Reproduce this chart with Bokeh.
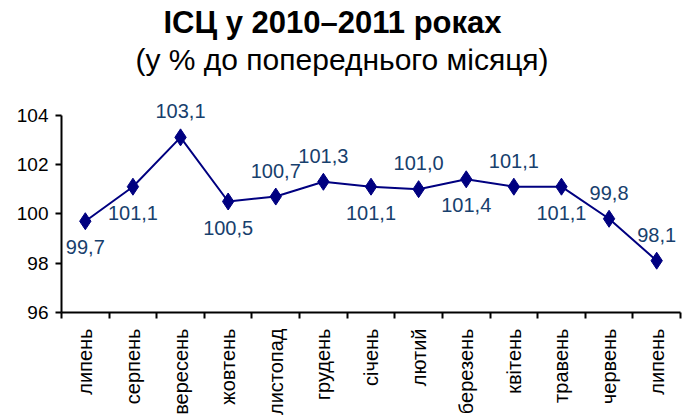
import math
from bokeh.plotting import figure
from bokeh.models import ColumnDataSource, FixedTicker, Title, Range1d, LabelSet
from bokeh.core.properties import value
from bokeh.embed import file_html
from bokeh.resources import INLINE

months = ["липень", "серпень", "вересень", "жовтень", "листопад", "грудень", "січень",
          "лютий", "березень", "квітень", "травень", "червень", "липень"]
values = [99.7, 101.1, 103.1, 100.5, 100.7, 101.3, 101.1, 101.0, 101.4, 101.1, 101.1, 99.8, 98.1]
label_pos = ["below", "below", "above", "below", "above", "above", "below",
             "above", "below", "above", "below", "above", "above"]
y_ticks = [96, 98, 100, 102, 104]

FONT = "Liberation Sans"
LINE_COLOR = "#000080"
LABEL_COLOR = "#17406D"

xs = list(range(len(months)))
labels = [f"{v:.1f}".replace(".", ",") for v in values]

# y range extends one unit above the last tick so labels above the axis top are not clipped
p = figure(width=682, height=419, output_backend="svg", toolbar_location=None,
           x_range=Range1d(-0.5, len(months) - 0.5), y_range=Range1d(y_ticks[0], y_ticks[-1] + 1),
           min_border_left=61, min_border_right=2, min_border_top=90, min_border_bottom=107)
p.outline_line_color = None
p.grid.grid_line_color = None
p.background_fill_color = "white"
p.border_fill_color = "white"

p.add_layout(Title(text="(у % до попереднього місяця)", text_font=FONT, text_font_size="30px",
                   text_font_style="normal", align="left", text_color="black",
                   standoff=29, offset=74), "above")
p.add_layout(Title(text="ІСЦ у 2010–2011 роках", text_font=FONT, text_font_size="31px",
                   text_font_style="bold", align="left", text_color="black",
                   standoff=-27, offset=102), "above")

p.line(xs, values, line_color=LINE_COLOR, line_width=2)
p.scatter(xs, values, marker="diamond", size=17, fill_color=LINE_COLOR, line_color=LINE_COLOR)

for pos, off in (("above", 26), ("below", -26)):
    idx = [i for i, lp in enumerate(label_pos) if lp == pos]
    src = ColumnDataSource(dict(x=[xs[i] for i in idx], y=[values[i] for i in idx],
                                t=[labels[i] for i in idx]))
    p.add_layout(LabelSet(x="x", y="y", text="t", source=src, text_align="center",
                          text_baseline="middle", y_offset=off, text_font_size=value("20px"),
                          text_color=LABEL_COLOR, text_font=value(FONT)))

# y axis
p.yaxis.ticker = FixedTicker(ticks=y_ticks)
p.yaxis.bounds = (y_ticks[0], y_ticks[-1])
p.yaxis.axis_line_width = 2
p.yaxis.major_tick_line_width = 2
p.yaxis.major_tick_in = 0
p.yaxis.major_tick_out = 6
p.yaxis.minor_tick_line_color = None
p.yaxis.major_label_text_font = FONT
p.yaxis.major_label_text_font_size = "19px"
p.yaxis.major_label_text_color = "black"
p.yaxis.major_label_standoff = 7

# x axis
p.xaxis.ticker = FixedTicker(ticks=xs, minor_ticks=[x - 0.5 for x in xs] + [xs[-1] + 0.5])
p.xaxis.major_label_overrides = {x: m for x, m in zip(xs, months)}
p.xaxis.major_label_orientation = math.pi / 2
p.xaxis.axis_line_width = 2
p.xaxis.major_tick_line_color = None
p.xaxis.minor_tick_line_color = "black"
p.xaxis.minor_tick_line_width = 2
p.xaxis.minor_tick_in = 0
p.xaxis.minor_tick_out = 6
p.xaxis.major_label_text_font = FONT
p.xaxis.major_label_text_font_size = "20px"
p.xaxis.major_label_text_color = "black"
p.xaxis.major_label_standoff = 10

open("out.html", "w").write(file_html(p, INLINE))
